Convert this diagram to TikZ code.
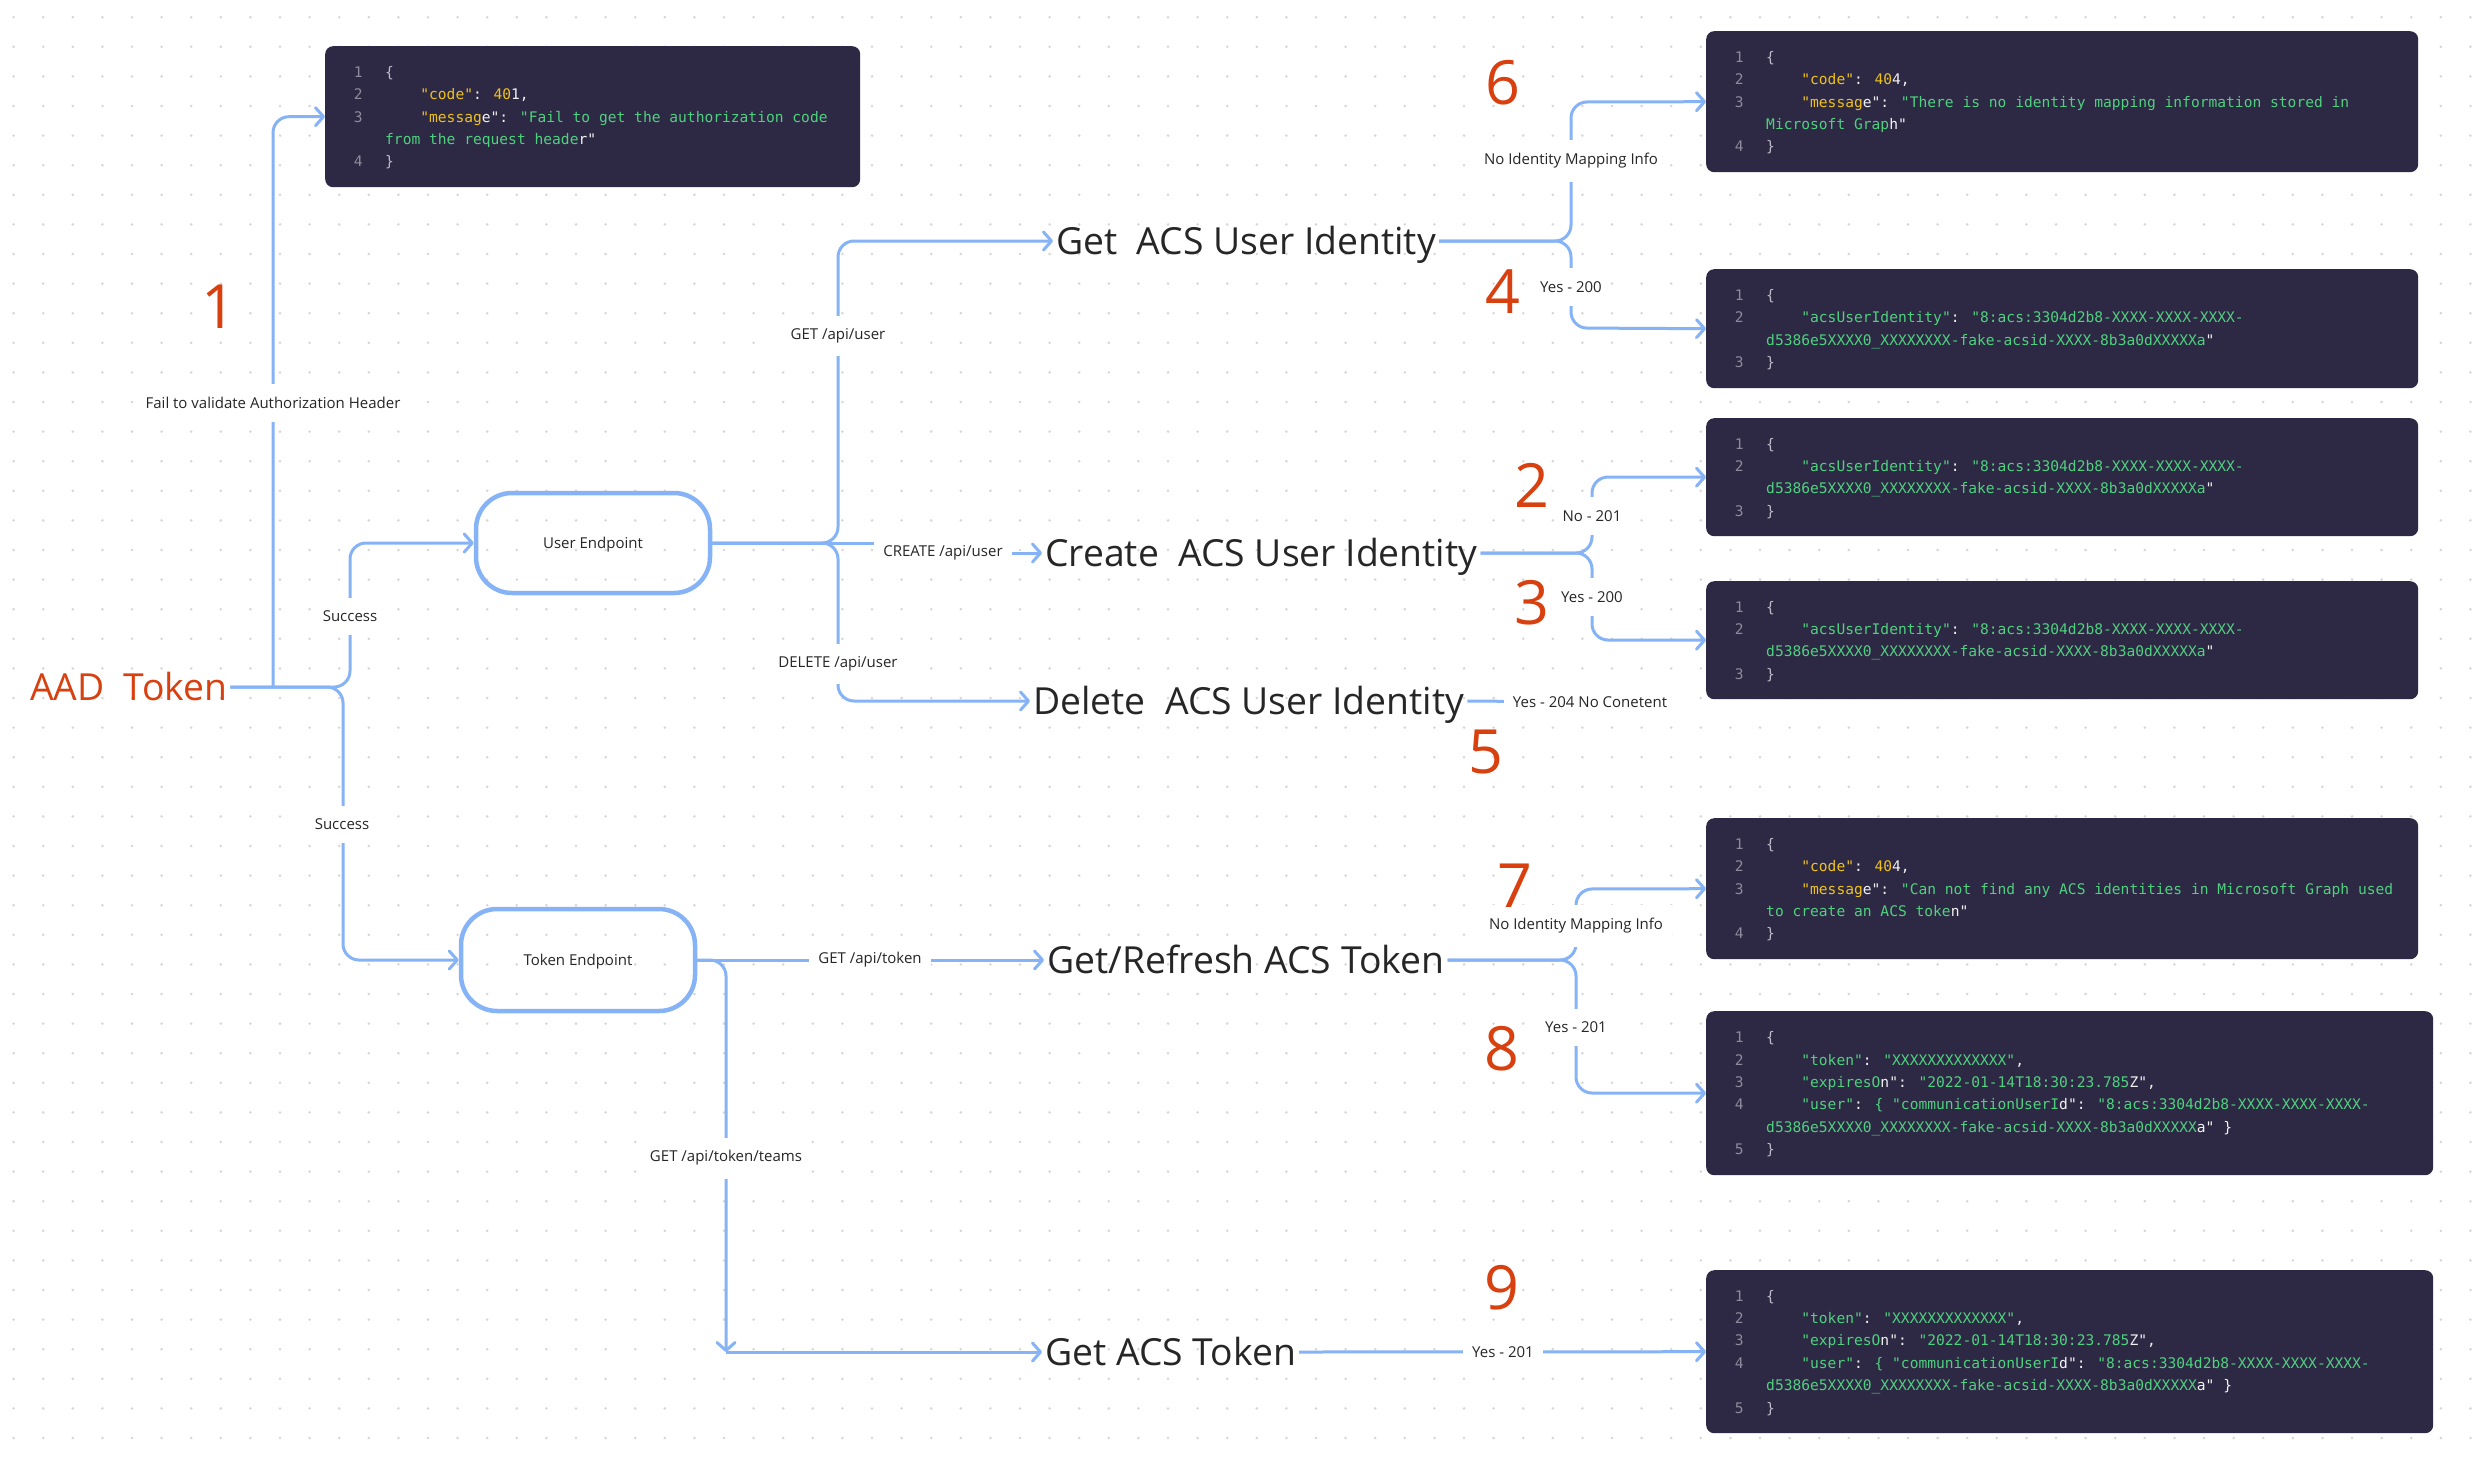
\documentclass[tikz,border=0pt]{standalone}
\usepackage{fontspec}
\setmainfont{Open Sans}
\newfontfamily\codefont{DejaVu Sans Mono}
\usepackage{array}
\usetikzlibrary{arrows.meta,backgrounds,positioning}

\definecolor{linkblue}{HTML}{86B3F6}
\definecolor{alert}{HTML}{D8400F}
\definecolor{ink}{HTML}{262626}
\definecolor{codebg}{HTML}{2D2843}
\definecolor{lnum}{HTML}{8D8B9C}
\definecolor{codeyel}{HTML}{EEC21B}
\definecolor{codegrn}{HTML}{4FD17F}
\definecolor{codewht}{HTML}{F2F2F2}
\definecolor{codebrc}{HTML}{BDBBC8}
\definecolor{griddot}{HTML}{D6D6D6}

\newcommand\yel[1]{\textcolor{codeyel}{#1}}
\newcommand\grn[1]{\textcolor{codegrn}{#1}}
\newcommand\wht[1]{\textcolor{codewht}{#1}}
\newcommand\brc[1]{\textcolor{codebrc}{#1}}
\newcommand\pad{\phantom{0000}}

\tikzset{
  flow/.style={draw=linkblue, line width=3pt, rounded corners=16pt,
    -{Straight Barb[length=8pt,width=18pt,round]}},
  wire/.style={draw=linkblue, line width=3pt},
  endpoint/.style={draw=linkblue, line width=4.5pt, rounded corners=36pt,
    minimum width=234pt, minimum height=100pt, text=ink,
    text height=10.7pt, text depth=0pt, font=\fontsize{15}{18}\selectfont},
  bigtext/.style={text=ink, font=\fontsize{37.3}{42}\selectfont,
    text height=26.6pt, text depth=0pt, inner sep=3pt, anchor=west},
  tag/.style={fill=white, text=ink, font=\fontsize{15}{18}\selectfont,
    inner xsep=9pt, inner ysep=13pt},
  stepno/.style={text=alert, font=\fontsize{61}{61}\selectfont, inner sep=0pt},
  codebox/.style={fill=codebg, rounded corners=8pt, anchor=north west, inner sep=0pt},
  codetext/.style={anchor=west, inner sep=0pt, text=codewht,
    font=\codefont\fontsize{14.6}{22.4}\selectfont}
}

\begin{document}
\begin{tikzpicture}[x=1pt, y=-1pt]
  \useasboundingbox (0,0) rectangle (2486,1464);

  % main steps
  \node[bigtext, text=alert] (aad)      at (27,687)   {AAD\ \ Token};
  \node[endpoint]            (user)     at (593,543)  {User Endpoint};
  \node[endpoint, minimum height=102pt] (token) at (578,960) {Token Endpoint};
  \node[bigtext]             (getid)    at (1053,241) {Get\ \ ACS User Identity};
  \node[bigtext]             (createid) at (1042,553) {Create\ \ ACS User Identity};
  \node[bigtext]             (deleteid) at (1030,701) {Delete\ \ ACS User Identity};
  \node[bigtext]             (refresh)  at (1044,960) {Get/Refresh ACS Token};
  \node[bigtext]             (getacs)   at (1042,1352) {Get ACS Token};

  % responses
  \node[codebox, minimum width=535pt, minimum height=141pt] (err401) at (325,46) {};
  \node[codetext] (err401 text) at ([xshift=28.6pt,yshift=-1pt]err401.west) {%
    \begin{tabular}{@{}>{\color{lnum}}r@{\hspace{22.6pt}}l@{}}
    1 & \brc{\{} \\
    2 & \pad\yel{"code"}\wht{: }\yel{40}\wht{1,} \\
    3 & \pad\yel{"messag}\wht{e": }\grn{"Fail to get the authorization code} \\
      & \grn{from the request heade}\wht{r"} \\
    4 & \brc{\}}
    \end{tabular}};

  \node[codebox, minimum width=712pt, minimum height=141pt] (nomap) at (1706,31) {};
  \node[codetext] (nomap text) at ([xshift=28.6pt,yshift=-1pt]nomap.west) {%
    \begin{tabular}{@{}>{\color{lnum}}r@{\hspace{22.6pt}}l@{}}
    1 & \brc{\{} \\
    2 & \pad\yel{"code"}\wht{: }\yel{40}\wht{4,} \\
    3 & \pad\yel{"messag}\wht{e": }\grn{"There is no identity mapping information stored in} \\
      & \grn{Microsoft Grap}\wht{h"} \\
    4 & \brc{\}}
    \end{tabular}};

  \node[codebox, minimum width=712pt, minimum height=119pt] (idok) at (1706,269) {};
  \node[codetext] (idok text) at ([xshift=28.6pt,yshift=-1pt]idok.west) {%
    \begin{tabular}{@{}>{\color{lnum}}r@{\hspace{22.6pt}}l@{}}
    1 & \brc{\{} \\
    2 & \pad\grn{"acsUserIdentity"}\wht{: }\grn{"8:acs:3304d2b8-XXXX-XXXX-XXXX-} \\
      & \grn{d5386e5XXXX0\_XXXXXXXX-fake-acsid-XXXX-8b3a0dXXXXXa}\wht{"} \\
    3 & \brc{\}}
    \end{tabular}};

  \node[codebox, minimum width=712pt, minimum height=118pt] (idnew) at (1706,418) {};
  \node[codetext] (idnew text) at ([xshift=28.6pt,yshift=-1pt]idnew.west) {%
    \begin{tabular}{@{}>{\color{lnum}}r@{\hspace{22.6pt}}l@{}}
    1 & \brc{\{} \\
    2 & \pad\grn{"acsUserIdentity"}\wht{: }\grn{"8:acs:3304d2b8-XXXX-XXXX-XXXX-} \\
      & \grn{d5386e5XXXX0\_XXXXXXXX-fake-acsid-XXXX-8b3a0dXXXXXa}\wht{"} \\
    3 & \brc{\}}
    \end{tabular}};

  \node[codebox, minimum width=712pt, minimum height=118pt] (idexist) at (1706,581) {};
  \node[codetext] (idexist text) at ([xshift=28.6pt,yshift=-1pt]idexist.west) {%
    \begin{tabular}{@{}>{\color{lnum}}r@{\hspace{22.6pt}}l@{}}
    1 & \brc{\{} \\
    2 & \pad\grn{"acsUserIdentity"}\wht{: }\grn{"8:acs:3304d2b8-XXXX-XXXX-XXXX-} \\
      & \grn{d5386e5XXXX0\_XXXXXXXX-fake-acsid-XXXX-8b3a0dXXXXXa}\wht{"} \\
    3 & \brc{\}}
    \end{tabular}};

  \node[codebox, minimum width=712pt, minimum height=141pt] (notoken) at (1706,818) {};
  \node[codetext] (notoken text) at ([xshift=28.6pt,yshift=-1pt]notoken.west) {%
    \begin{tabular}{@{}>{\color{lnum}}r@{\hspace{22.6pt}}l@{}}
    1 & \brc{\{} \\
    2 & \pad\yel{"code"}\wht{: }\yel{40}\wht{4,} \\
    3 & \pad\yel{"messag}\wht{e": }\grn{"Can not find any ACS identities in Microsoft Graph used} \\
      & \grn{to create an ACS toke}\wht{n"} \\
    4 & \brc{\}}
    \end{tabular}};

  \node[codebox, minimum width=727pt, minimum height=164pt] (tokenok) at (1706,1011) {};
  \node[codetext] (tokenok text) at ([xshift=28.6pt,yshift=-1pt]tokenok.west) {%
    \begin{tabular}{@{}>{\color{lnum}}r@{\hspace{22.6pt}}l@{}}
    1 & \brc{\{} \\
    2 & \pad\grn{"token"}\wht{: }\grn{"XXXXXXXXXXXXX"}\wht{,} \\
    3 & \pad\grn{"expiresO}\wht{n": }\grn{"2022-01-14T18:30:23.785}\wht{Z",} \\
    4 & \pad\grn{"user"}\wht{: }\grn{\{ "communicationUserI}\wht{d": }\grn{"8:acs:3304d2b8-XXXX-XXXX-XXXX-} \\
      & \grn{d5386e5XXXX0\_XXXXXXXX-fake-acsid-XXXX-8b3a0dXXXXX}\wht{a" \}} \\
    5 & \brc{\}}
    \end{tabular}};

  \node[codebox, minimum width=727pt, minimum height=163pt] (teamsok) at (1706,1270) {};
  \node[codetext] (teamsok text) at ([xshift=28.6pt,yshift=-1pt]teamsok.west) {%
    \begin{tabular}{@{}>{\color{lnum}}r@{\hspace{22.6pt}}l@{}}
    1 & \brc{\{} \\
    2 & \pad\grn{"token"}\wht{: }\grn{"XXXXXXXXXXXXX"}\wht{,} \\
    3 & \pad\grn{"expiresO}\wht{n": }\grn{"2022-01-14T18:30:23.785}\wht{Z",} \\
    4 & \pad\grn{"user"}\wht{: }\grn{\{ "communicationUserI}\wht{d": }\grn{"8:acs:3304d2b8-XXXX-XXXX-XXXX-} \\
      & \grn{d5386e5XXXX0\_XXXXXXXX-fake-acsid-XXXX-8b3a0dXXXXX}\wht{a" \}} \\
    5 & \brc{\}}
    \end{tabular}};

  % connector labels
  \node[tag] (faillbl)    at (273,403)  {Fail to validate Authorization Header};
  \node[tag] (succuser)   at (350,616)  {Success};
  \node[tag] (succtoken)  at (342,824)  {Success};
  \node[tag] (getlbl)     at (838,336)  {GET /api/user};
  \node[tag] (createlbl)  at (943,553)  {CREATE /api/user};
  \node[tag] (deletelbl)  at (838,664)  {DELETE /api/user};
  \node[tag] (nomaplbl)   at (1571,161) {No Identity Mapping Info};
  \node[tag] (foundlbl)   at (1571,287) {Yes - 200};
  \node[tag] (newlbl)     at (1592,516) {No - 201};
  \node[tag] (existlbl)   at (1592,597) {Yes - 200};
  \node[tag] (removedlbl) at (1590,702) {Yes - 204 No Conetent};
  \node[tag] (tokenlbl)   at (870,960)  {GET /api/token};
  \node[tag] (notokenlbl) at (1576,926) {No Identity Mapping Info};
  \node[tag] (refreshlbl) at (1576,1027) {Yes - 201};
  \node[tag] (teamslbl)   at (726,1158) {GET /api/token/teams};
  \node[tag] (teamsoklbl) at (1503,1352) {Yes - 201};

  % step numbers
  \node[stepno] (n1) at (219,307)  {1};
  \node[stepno] (n2) at (1532,485) {2};
  \node[stepno] (n3) at (1532,603) {3};
  \node[stepno] (n4) at (1503,292) {4};
  \node[stepno] (n5) at (1486,752) {5};
  \node[stepno] (n6) at (1503,83)  {6};
  \node[stepno] (n7) at (1515,886) {7};
  \node[stepno] (n8) at (1502,1049) {8};
  \node[stepno] (n9) at (1502,1288) {9};

  \begin{scope}[on background layer]
    \fill[white] (0,0) rectangle (2486,1464);
    \foreach \i in {0,...,83}
      \foreach \j in {0,...,49}
        \fill[griddot] (13.6+29.6*\i, 17.2+29.6*\j) circle (1.4pt);

    % token check
    \coordinate (aadfork) at (273,687);
    \draw[flow] (aadfork) |- (err401.west);
    \draw[flow] (aad.east) -| (350,543) -- (user.west);
    \draw[flow] (aad.east) -| (343,960) -- (token.west);

    % user endpoint
    \draw[flow] (user.east) -| (838,241) -- (getid.west);
    \draw[flow, rounded corners=0pt] (user.east) -| (createlbl) -- (createid.west);
    \draw[flow] (user.east) -| (838,701) -- (deleteid.west);
    \draw[flow] (getid.east) -| (1571,102) -- (nomap.west);
    \draw[flow] (getid.east) -| (1571,328) -- (idok.west);
    \draw[flow] (createid.east) -| (1592,477) -- (idnew.west);
    \draw[flow] (createid.east) -| (1592,640) -- (idexist.west);
    \draw[wire] (deleteid.east) -- (removedlbl);

    % token endpoint
    \coordinate (teamsend) at (726,1352);
    \draw[flow] (token.east) -- (refresh.west);
    \draw[flow] (token.east) -| (teamsend);
    \draw[flow] (teamsend) -- (getacs.west);
    \draw[flow] (refresh.east) -| (1576,889) -- (notoken.west);
    \draw[flow] (refresh.east) -| (1576,1093) -- (tokenok.west);
    \draw[flow] (getacs.east) -- (teamsok.west);
  \end{scope}
\end{tikzpicture}
\end{document}
